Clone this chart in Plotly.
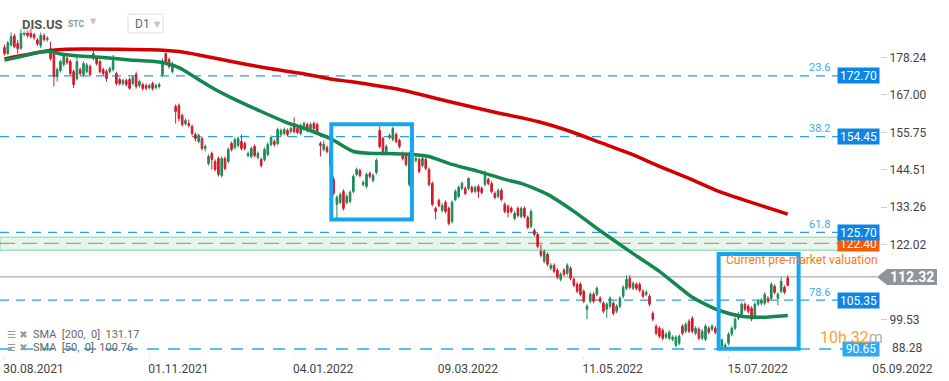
import plotly.graph_objects as go

# ---------------- data ----------------
opens = [181.2,179.4,182.0,184.7,182.5,181.0,185.2,186.0,186.6,185.1,183.5,181.8,184.8,183.6,180.9,179.4,172.5,174.3,176.1,178.0,
         177.0,174.0,171.9,174.6,173.1,174.0,175.5,178.0,178.2,177.0,174.6,174.0,174.0,174.6,173.4,171.6,170.4,171.3,171.6,170.4,
         173.1,169.8,170.1,169.8,169.2,170.4,169.2,169.5,173.1,179.4,177.6,174.0,163.5,163.8,160.8,158.4,158.4,157.5,155.1,153.0,
         153.9,150.9,146.4,149.4,147.0,147.9,142.8,147.9,147.0,152.4,151.2,151.8,153.0,152.4,148.8,148.5,151.5,148.2,147.6,147.6,
         149.1,152.1,153.0,152.4,155.1,155.4,156.3,156.0,158.4,156.9,155.4,156.9,158.1,156.9,158.4,158.1,152.4,150.6,151.2,150.0,
         141.6,134.1,134.7,138.0,134.7,135.0,138.0,143.1,144.3,140.1,139.5,143.4,141.3,143.7,156.3,153.9,149.4,154.2,153.6,155.1,
         153.3,149.4,149.1,140.1,149.4,147.3,147.6,145.8,147.6,144.6,140.4,132.9,135.3,132.3,134.7,132.9,129.0,135.6,136.5,138.9,
         138.9,138.9,139.2,138.0,139.5,138.9,140.1,141.6,140.4,137.4,136.5,138.3,134.1,133.5,132.9,129.9,132.9,130.5,132.9,130.2,
         127.5,126.3,125.1,120.0,117.0,119.1,114.9,115.8,114.3,111.6,114.3,113.4,114.9,111.6,110.1,110.1,108.0,102.6,105.0,107.1,
         107.1,105.9,104.4,102.6,103.5,104.4,102.0,103.5,106.5,108.9,111.9,108.9,110.1,110.1,108.0,107.1,106.5,101.4,97.5,96.9,
         96.3,94.2,93.9,93.6,91.8,92.4,97.5,96.0,99.0,99.9,95.4,96.6,93.9,93.6,96.9,96.6,96.9,95.1,91.5,90.9,
         92.4,95.1,96.9,99.9,101.1,104.1,103.5,102.9,100.5,104.1,104.4,104.4,105.9,105.9,109.5,105.9,108.0,109.2,112.0]
highs = [182.1,183.2,186.0,185.4,183.5,187.0,186.4,186.8,187.5,185.7,184.1,186.0,185.5,184.6,183.0,180.0,175.2,177.6,179.5,178.6,
         177.6,174.6,178.5,175.2,177.0,176.6,176.1,180.5,178.8,177.6,175.2,174.6,175.5,179.0,174.0,172.2,171.9,171.9,172.2,172.8,
         174.0,171.6,170.7,170.4,170.4,171.0,170.4,170.7,178.0,179.7,178.2,177.0,164.1,164.4,161.4,159.9,159.6,158.1,155.7,155.4,
         154.5,152.1,149.1,150.0,147.6,148.5,148.5,148.5,151.2,153.0,154.2,154.5,155.1,153.0,150.0,151.5,152.1,150.0,148.2,151.2,
         152.7,154.8,153.6,157.2,156.9,157.2,156.9,157.5,160.2,157.5,158.4,159.0,158.7,158.7,159.0,158.7,153.0,153.3,151.8,150.6,
         142.5,136.8,137.7,138.6,137.1,138.3,143.1,145.2,144.9,141.3,143.7,144.0,143.4,147.9,157.5,154.5,152.1,155.4,157.5,155.7,
         153.9,150.0,149.7,150.0,151.2,148.5,148.2,148.5,148.2,145.2,141.0,133.5,135.9,134.4,135.3,133.5,135.3,138.6,139.8,141.0,
         139.5,142.2,139.8,139.8,140.1,139.5,144.3,142.2,141.0,138.0,138.9,138.9,134.7,134.1,133.5,132.0,133.5,133.5,133.5,130.8,
         132.6,126.9,125.7,122.1,120.6,119.7,116.4,116.4,114.9,113.7,114.9,116.4,115.5,112.2,110.7,110.7,108.6,104.1,107.7,107.7,
         109.5,106.5,105.0,104.7,106.5,105.0,104.1,106.5,109.8,112.8,112.8,111.0,110.7,110.7,108.6,108.3,107.1,102.0,98.1,97.5,
         96.9,95.7,96.3,94.8,94.8,95.1,98.1,98.7,99.6,100.5,97.5,97.2,96.6,98.1,97.5,98.1,97.5,95.7,93.9,92.4,
         95.7,97.5,100.2,101.7,104.7,104.7,104.1,103.5,104.7,105.6,105.9,107.7,106.5,110.7,110.1,107.7,112.2,109.8,112.8]
lows = [178.8,179.0,181.5,181.0,179.4,180.5,184.6,184.2,183.9,183.6,181.7,181.0,183.0,183.0,177.3,169.5,171.0,173.7,175.5,176.1,
        172.8,169.0,171.3,172.8,172.5,173.4,172.5,177.4,175.8,173.4,172.8,171.0,173.4,174.0,169.8,169.8,169.8,169.5,168.5,169.8,
        168.9,169.2,168.3,168.4,168.6,168.3,168.6,168.9,172.5,176.4,174.9,173.4,158.4,159.0,157.5,157.8,157.2,154.8,153.0,152.4,
        150.3,150.0,145.8,144.6,144.0,142.5,142.2,144.3,146.4,150.0,150.6,151.2,150.3,150.3,148.2,147.9,148.2,147.6,145.2,147.0,
        148.5,151.5,151.5,151.8,154.5,154.8,154.5,155.4,155.4,155.1,154.8,156.3,155.7,156.3,156.3,155.4,148.5,150.0,149.4,145.4,
        136.8,129.6,134.1,132.3,134.1,134.4,137.4,142.5,142.2,139.5,138.9,141.9,140.7,143.1,150.9,148.8,148.8,153.6,153.0,152.4,
        150.9,147.3,145.5,139.5,148.8,146.7,143.4,145.2,144.3,139.5,133.5,129.6,133.2,131.7,131.4,127.8,128.4,135.0,135.9,138.3,
        136.8,138.3,137.4,137.4,136.0,137.1,139.5,139.8,137.4,135.6,135.9,135.0,131.4,130.2,131.4,129.3,130.2,129.9,129.9,126.6,
        126.9,124.5,120.9,118.2,116.4,115.5,114.3,113.4,111.6,111.0,112.5,112.8,111.3,109.2,107.4,106.5,104.4,99.6,104.4,104.4,
        106.5,104.4,101.4,100.0,102.9,100.8,101.4,102.9,105.9,108.3,108.6,108.3,108.3,107.7,105.9,106.5,103.5,99.0,94.8,93.9,
        93.3,93.6,93.3,93.0,91.2,91.8,94.8,95.4,95.4,95.4,94.8,93.3,93.3,93.0,95.1,96.0,95.1,92.4,91.0,90.6,
        91.8,94.5,96.3,99.3,100.5,102.0,101.4,99.0,99.9,103.5,103.8,103.8,104.4,105.3,107.1,103.8,107.4,107.1,109.5]
closes = [179.4,182.6,184.5,181.5,180.9,186.3,185.8,184.8,184.5,184.2,182.3,184.8,183.6,184.0,177.9,172.5,174.6,177.0,179.1,176.7,
          173.4,170.1,177.0,173.4,176.4,176.0,173.1,179.4,176.4,174.0,173.4,171.9,174.9,177.3,170.4,170.4,171.3,170.1,169.0,172.2,
          169.5,171.0,168.9,169.0,169.8,168.9,169.8,170.1,177.0,177.0,175.5,176.4,162.0,159.9,158.1,159.3,157.8,155.4,153.9,154.8,
          150.9,151.5,148.5,147.6,144.6,143.1,147.9,144.9,150.6,150.6,153.6,153.9,150.9,150.9,149.4,150.9,148.8,149.4,145.8,150.6,
          152.1,154.2,152.1,156.6,156.3,156.6,155.1,156.9,156.0,155.7,157.8,158.4,156.3,158.1,156.9,156.0,151.8,152.1,150.0,146.0,
          137.4,136.2,137.1,132.9,136.5,137.7,142.5,144.6,142.8,140.7,143.1,142.5,142.8,147.3,151.5,149.4,151.5,154.8,156.9,153.0,
          151.5,147.9,146.1,149.4,150.6,147.9,144.0,147.9,144.9,140.1,134.1,132.0,133.8,133.8,132.0,128.4,134.7,138.0,139.2,140.4,
          137.4,141.9,138.0,139.2,138.0,137.7,143.1,140.4,138.0,136.2,138.3,135.6,132.0,131.7,132.0,131.4,130.8,132.9,130.5,127.2,
          132.0,125.1,121.5,118.8,120.0,116.1,115.8,114.0,112.2,113.1,113.1,115.8,111.9,109.8,108.0,107.1,105.0,103.5,107.1,105.0,
          108.9,105.0,102.0,104.1,105.9,101.4,103.5,105.9,109.2,111.6,109.2,110.4,108.9,108.3,106.5,107.7,104.1,99.6,95.4,94.5,
          93.9,95.1,95.7,94.2,94.2,94.5,95.4,98.1,96.0,96.0,96.9,93.9,96.0,97.5,95.7,97.5,95.7,93.0,93.3,91.8,
          95.1,96.9,99.6,101.1,104.1,102.6,102.0,99.6,104.1,105.0,105.3,107.1,105.0,110.1,107.7,107.1,111.0,107.7,109.8]

sma200_idx = [0, 14, 19, 34, 47, 53, 59, 69, 80, 90, 99, 105, 120, 135, 148, 162, 172, 181, 190, 199, 208, 217, 226, 238]
sma200_val = [177.8, 180.3, 180.7, 180.7, 180.5, 180.0, 179.0, 177.0, 175.0, 173.5, 171.8, 171.0, 168.6, 165.0,
              162.0, 159.0, 156.0, 152.7, 149.4, 145.5, 141.9, 138.0, 135.0, 131.17]
sma50_idx = [0, 5, 10, 14, 17, 24, 29, 38, 47, 53, 59, 64, 69, 78, 85, 92, 99, 106, 112, 116, 124, 129, 136, 144,
             152, 157, 165, 173, 180, 190, 199, 209, 217, 224, 230, 238]
sma50_val = [177.5, 178.5, 179.7, 180.0, 179.3, 178.6, 178.3, 177.5, 176.9, 175.2, 171.6, 168.6, 166.1, 162.0, 159.0,
             156.6, 153.9, 150.0, 149.4, 149.4, 149.1, 148.5, 146.1, 144.0, 141.6, 140.4, 137.1, 132.0, 126.9, 120.0,
             114.0, 106.2, 102.3, 100.5, 100.2, 100.76]

date_tick_idx = [0, 44, 88, 132, 176, 220, 264]
date_tick_text = ["30.08.2021", "01.11.2021", "04.01.2022", "09.03.2022", "11.05.2022", "15.07.2022", "05.09.2022"]
price_tick_vals = [178.24, 167.00, 155.75, 144.51, 133.26, 122.02, 99.53]
bottom_tick_text = "88.28"

fib_levels = [172.70, 154.45, 125.70, 105.35]
fib_pcts = ["23.6", "38.2", "61.8", "78.6"]
low_level = 90.65
premarket_level = 122.40
last_price = 112.32
band_low, band_high = 120.3, 124.2
sma200_last, sma50_last = 131.17, 100.76
box1 = (99.3, 123.8, 129.6, 158.2)
box2 = (217.0, 241.3, 90.7, 119.2)

# ---------------- geometry helpers ----------------
W, H = 949, 381
PW, PH = 880, 355          # plot area in pixels
X_RANGE = [-1.37, 266.03]
Y_RANGE = [88.86, 195.5]


def pxx(p):
    return p / PW


def pxy(p):
    return 1 - p / PH


GREEN = "#1d8b56"
RED = "#d31a2c"
BLUE_LINE = "#2a9fe6"
BLUE_BOX = "#0c86e6"
BOX_STROKE = "#16a6ee"
FONT = "Roboto"

x_idx = list(range(len(closes)))

fig = go.Figure()
fig.add_trace(go.Candlestick(
    x=x_idx, open=opens, high=highs, low=lows, close=closes,
    increasing=dict(line=dict(color=GREEN, width=1), fillcolor=GREEN),
    decreasing=dict(line=dict(color=RED, width=1), fillcolor=RED),
    whiskerwidth=0, hoverinfo="skip", showlegend=False))
fig.add_trace(go.Scatter(x=sma200_idx, y=sma200_val, mode="lines",
                         line=dict(color="#d20000", width=3.5, shape="spline", smoothing=0.6),
                         hoverinfo="skip", showlegend=False))
fig.add_trace(go.Scatter(x=sma50_idx, y=sma50_val, mode="lines",
                         line=dict(color="#14874f", width=3.5, shape="spline", smoothing=0.6),
                         hoverinfo="skip", showlegend=False))

shapes = []
# green band
shapes.append(dict(type="rect", xref="paper", yref="y", x0=0, x1=pxx(840), y0=band_low, y1=band_high,
                   fillcolor="#e4f6ed", line=dict(color="#a5dfc0", width=1.5), layer="below"))
for lvl in fib_levels:
    shapes.append(dict(type="line", xref="paper", yref="y", x0=0, x1=pxx(838), y0=lvl, y1=lvl,
                       line=dict(color=BLUE_LINE, width=1.2, dash="9px,7px"), layer="below"))
shapes.append(dict(type="line", xref="paper", yref="y", x0=0, x1=pxx(845), y0=low_level, y1=low_level,
                   line=dict(color="#5cbff1", width=2, dash="12px,9px"), layer="below"))
shapes.append(dict(type="line", xref="paper", yref="y", x0=0, x1=pxx(838), y0=premarket_level, y1=premarket_level,
                   line=dict(color="#dc8c5e", width=1.4, dash="15px,7px"), layer="below"))
shapes.append(dict(type="line", xref="paper", yref="y", x0=0, x1=pxx(877), y0=last_price, y1=last_price,
                   line=dict(color="#9a9a9a", width=1), layer="below"))
# highlight boxes
for bx in (box1, box2):
    shapes.append(dict(type="rect", xref="x", yref="y", x0=bx[0], x1=bx[1], y0=bx[2], y1=bx[3],
                       line=dict(color=BOX_STROKE, width=4), fillcolor="rgba(0,0,0,0)", layer="above"))
# current price tag
dy = 8 * (Y_RANGE[1] - Y_RANGE[0]) / PH
shapes.append(dict(type="path", xref="paper", yref="y",
                   path=(f"M {pxx(877)},{last_price} L {pxx(887)},{last_price + dy} L {pxx(937)},{last_price + dy} "
                         f"L {pxx(937)},{last_price - dy} L {pxx(887)},{last_price - dy} Z"),
                   fillcolor="#8d969c", line=dict(width=0), layer="above"))
# header overlay
shapes.append(dict(type="rect", xref="paper", yref="paper", x0=0, x1=pxx(176), y0=pxy(33), y1=1,
                   fillcolor="rgba(255,255,255,0.55)", line=dict(width=0), layer="above"))
shapes.append(dict(type="rect", xref="paper", yref="paper", x0=pxx(128), x1=pxx(163), y0=pxy(33), y1=pxy(14),
                   fillcolor="white", line=dict(color="#dedede", width=1), layer="above"))

ann = []
# y bottom tick label
ann.append(dict(x=pxx(890), y=pxy(348), xref="paper", yref="paper", xanchor="left", yanchor="middle",
                text=bottom_tick_text, showarrow=False, font=dict(family=FONT, size=12, color="#444")))
for lvl, pct in zip(fib_levels, fib_pcts):
    ann.append(dict(x=pxx(819), y=lvl, xref="paper", yref="y", xanchor="center", yanchor="middle", yshift=8,
                    text=pct, showarrow=False, font=dict(family=FONT, size=11, color="#3aa8ef")))
# price boxes (orange first so the 125.70 box covers it)
ann.append(dict(x=1, y=premarket_level, xref="paper", yref="y", xanchor="right", yanchor="middle",
                text=f"{premarket_level:.2f}", showarrow=False, bgcolor="#f25a06", width=39, height=13, borderpad=1,
                font=dict(family=FONT, size=12, color="white")))
for lvl in fib_levels:
    ann.append(dict(x=1, y=lvl, xref="paper", yref="y", xanchor="right", yanchor="middle",
                    text=f"{lvl:.2f}", showarrow=False, bgcolor=BLUE_BOX, width=39, height=13, borderpad=1,
                    font=dict(family=FONT, size=12, color="white")))
ann.append(dict(x=1, y=low_level, xref="paper", yref="y", xanchor="right", yanchor="middle",
                text=f"{low_level:.2f}", showarrow=False, bgcolor="#2ba9f2", width=34, height=12, borderpad=1,
                font=dict(family=FONT, size=12, color="white")))
ann.append(dict(x=pxx(912), y=last_price, xref="paper", yref="y", xanchor="center", yanchor="middle",
                text=f"<b>{last_price:.2f}</b>", showarrow=False, font=dict(family=FONT, size=14, color="white")))
ann.append(dict(x=pxx(802), y=pxy(260), xref="paper", yref="paper", xanchor="center", yanchor="middle",
                text="Current pre-market valuation", showarrow=False,
                font=dict(family=FONT, size=12, color="#f37b20")))
ann.append(dict(x=pxx(851), y=pxy(337), xref="paper", yref="paper", xanchor="center", yanchor="middle",
                text="<span style='color:#f6a42c'>10h 32</span><span style='color:#b3b3b3'>m</span>",
                showarrow=False, font=dict(family=FONT, size=16)))
# legend of indicators
for ypix, txt in ((334, f"SMA  [200,  0]  {sma200_last:.2f}"), (347, f"SMA  [50,  0]  {sma50_last:.2f}")):
    ann.append(dict(x=pxx(5), y=pxy(ypix), xref="paper", yref="paper", xanchor="left", yanchor="middle",
                    text="☰ ✖", showarrow=False, font=dict(family="DejaVu Sans", size=10, color="#9a9a9a")))
    ann.append(dict(x=pxx(31), y=pxy(ypix), xref="paper", yref="paper", xanchor="left", yanchor="middle",
                    text=txt, showarrow=False, font=dict(family=FONT, size=11, color="#666")))
# header
ann.append(dict(x=pxx(20), y=pxy(24), xref="paper", yref="paper", xanchor="left", yanchor="middle",
                text="<b>DIS.US</b>", showarrow=False, font=dict(family=FONT, size=13, color="#555")))
ann.append(dict(x=pxx(66), y=pxy(24), xref="paper", yref="paper", xanchor="left", yanchor="middle",
                text="<b>STC</b>", showarrow=False, font=dict(family=FONT, size=8.5, color="#8796a3")))
ann.append(dict(x=pxx(88), y=pxy(21), xref="paper", yref="paper", xanchor="left", yanchor="middle",
                text="▼", showarrow=False, font=dict(family="DejaVu Sans", size=8, color="#c2c2c2")))
ann.append(dict(x=pxx(133), y=pxy(24), xref="paper", yref="paper", xanchor="left", yanchor="middle",
                text="D1", showarrow=False, font=dict(family=FONT, size=12, color="#666")))
ann.append(dict(x=pxx(152), y=pxy(24), xref="paper", yref="paper", xanchor="left", yanchor="middle",
                text="▼", showarrow=False, font=dict(family="DejaVu Sans", size=8, color="#c2c2c2")))

fig.update_layout(
    width=W, height=H, margin=dict(l=0, r=W - PW, t=0, b=H - PH, autoexpand=False),
    paper_bgcolor="white", plot_bgcolor="white", showlegend=False,
    shapes=shapes, annotations=ann, hovermode=False,
    xaxis=dict(range=X_RANGE, tickmode="array", tickvals=date_tick_idx, ticktext=date_tick_text,
               ticks="outside", ticklen=3, tickcolor="#e2e2e2", ticklabelshift=29, automargin=False,
               showgrid=False, zeroline=False, showline=False, rangeslider=dict(visible=False),
               tickfont=dict(family=FONT, size=12, color="#444"), fixedrange=True),
    yaxis=dict(range=Y_RANGE, side="right", tickmode="array", tickvals=price_tick_vals,
               ticktext=[f"{v:.2f}" for v in price_tick_vals], automargin=False,
               ticks="outside", ticklen=6, tickcolor="#d0d0d0", showgrid=False, zeroline=False, showline=False,
               tickfont=dict(family=FONT, size=12, color="#444"), fixedrange=True),
)

fig.write_html("out.html", config={"displayModeBar": False},
               post_script="document.body.style.margin='0';document.body.style.overflow='hidden';")
